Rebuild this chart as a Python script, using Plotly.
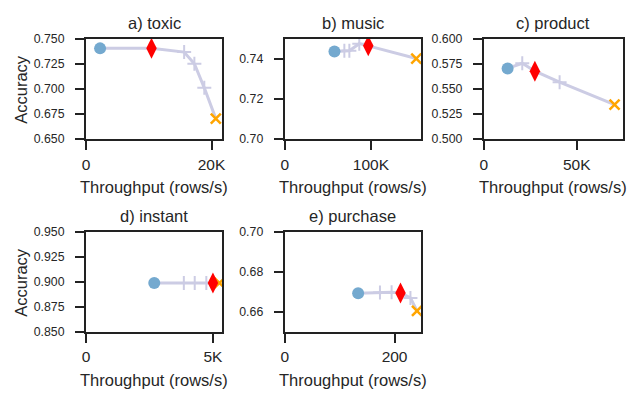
import plotly.graph_objects as go

W, H = 630, 398

# ---------------- data (throughput rows/s, accuracy) ----------------
titles = ["a) toxic", "b) music", "c) product", "d) instant", "e) purchase"]

toxic_x = [2250, 10440, 15640, 17270, 18850, 20680]
toxic_y = [0.7405, 0.7405, 0.7368, 0.7252, 0.7012, 0.6705]
toxic_kind = ["base", "chosen", "mid", "mid", "mid", "fast"]

music_x = [57700, 69200, 75000, 86500, 96900, 152600]
music_y = [0.7437, 0.7441, 0.7441, 0.7476, 0.7465, 0.7402]
music_kind = ["base", "mid", "mid", "mid", "chosen", "fast"]

product_x = [12800, 20700, 27500, 40800, 70400]
product_y = [0.5705, 0.5757, 0.5678, 0.5568, 0.5345]
product_kind = ["base", "mid", "chosen", "mid", "fast"]

instant_x = [2690, 3855, 4283, 4740, 5000, 5257]
instant_y = [0.899, 0.899, 0.899, 0.899, 0.899, 0.899]
instant_kind = ["base", "mid", "mid", "mid", "chosen", "fast"]

purchase_x = [133.7, 173.4, 194.6, 210.8, 228.9, 240.8]
purchase_y = [0.6693, 0.6697, 0.6699, 0.6695, 0.6670, 0.6605]
purchase_kind = ["base", "mid", "mid", "chosen", "mid", "fast"]

xranges = [[0, 21700], [0, 158000], [0, 74800], [0, 5365], [0, 248]]
yranges = [[0.65, 0.75], [0.70, 0.75], [0.50, 0.60], [0.85, 0.95], [0.65, 0.70]]
xtickvals = [[0, 20000], [0, 100000], [0, 50000], [0, 5000], [0, 200]]
xticktext = [["0", "20K"], ["0", "100K"], ["0", "50K"], ["0", "5K"], ["0", "200"]]
ytickvals = [
    [0.650, 0.675, 0.700, 0.725, 0.750],
    [0.70, 0.72, 0.74],
    [0.500, 0.525, 0.550, 0.575, 0.600],
    [0.850, 0.875, 0.900, 0.925, 0.950],
    [0.66, 0.68, 0.70],
]
yformats = [".3f", ".2f", ".3f", ".3f", ".2f"]

datasets = [
    (toxic_x, toxic_y, toxic_kind),
    (music_x, music_y, music_kind),
    (product_x, product_y, product_kind),
    (instant_x, instant_y, instant_kind),
    (purchase_x, purchase_y, purchase_kind),
]

# ---------------- layout geometry (pixels) ----------------
cols_px = [(83, 221), (284.3, 422.3), (486, 626.7)]
rows_px = [(33, 137), (233.3, 336.7)]
positions = [(0, 0), (0, 1), (0, 2), (1, 0), (1, 1)]

LINE_C = "rgb(204,204,228)"
BLUE = "rgb(116,169,207)"
RED = "#ff0000"
ORANGE = "#ffa500"
TXT = "#262626"
FONT = "Liberation Sans, Arial, sans-serif"
BIG = 16.5

fig = go.Figure()
annotations = []

for i, ((xs, ys, kinds), (r, c)) in enumerate(zip(datasets, positions)):
    n = "" if i == 0 else str(i + 1)
    xa, ya = "x" + n, "y" + n
    x0, x1 = cols_px[c]
    y0, y1 = rows_px[r]

    fig.add_trace(go.Scatter(x=xs, y=ys, mode="lines", xaxis=xa, yaxis=ya,
                             line=dict(color=LINE_C, width=3), showlegend=False))
    mx = [x for x, k in zip(xs, kinds) if k == "mid"]
    my = [y for y, k in zip(ys, kinds) if k == "mid"]
    fig.add_trace(go.Scatter(x=mx, y=my, mode="markers", xaxis=xa, yaxis=ya,
                             marker=dict(symbol="cross-thin", size=10,
                                         line=dict(color=LINE_C, width=2)),
                             showlegend=False))
    for kind, sym, col, size, lw in [("base", "circle", BLUE, 12, 0),
                                     ("fast", "x-thin", ORANGE, 10, 2.5),
                                     ("chosen", "diamond-tall", RED, 15, 0)]:
        px_ = [x for x, k in zip(xs, kinds) if k == kind]
        py_ = [y for y, k in zip(ys, kinds) if k == kind]
        if sym == "x-thin":
            mk = dict(symbol=sym, size=size, line=dict(color=col, width=lw))
        else:
            mk = dict(symbol=sym, size=size, color=col, line=dict(width=0))
        fig.add_trace(go.Scatter(x=px_, y=py_, mode="markers", xaxis=xa, yaxis=ya,
                                 marker=mk, showlegend=False))

    common = dict(showline=True, linecolor="#222222", linewidth=2, mirror=True,
                  ticks="outside", ticklen=9, tickwidth=1.5, tickcolor="#222222",
                  showgrid=False, zeroline=False, fixedrange=True)
    fig.update_layout(**{
        ("xaxis" + n): dict(domain=[x0 / W, x1 / W], range=xranges[i],
                            anchor=ya, tickvals=xtickvals[i], ticktext=xticktext[i],
                            tickfont=dict(size=15.5, color=TXT, family=FONT),
                            ticklabelstandoff=1, **common),
        ("yaxis" + n): dict(domain=[1 - y1 / H, 1 - y0 / H], range=yranges[i],
                            anchor=xa, tickvals=ytickvals[i], tickformat=yformats[i],
                            tickfont=dict(size=12.3, color=TXT, family=FONT),
                            ticklabelstandoff=8, **common),
    })

    cx = (x0 + x1) / 2 / W
    annotations.append(dict(text=titles[i], x=cx, y=1 - (y0 - 16.5) / H,
                            xref="paper", yref="paper", showarrow=False,
                            xanchor="center", yanchor="middle",
                            font=dict(size=BIG, color=TXT, family=FONT)))
    annotations.append(dict(text="Throughput (rows/s)", x=cx, y=1 - (y1 + 50) / H,
                            xref="paper", yref="paper", showarrow=False,
                            xanchor="center", yanchor="middle",
                            font=dict(size=BIG, color=TXT, family=FONT)))
    if c == 0:
        annotations.append(dict(text="Accuracy", x=17 / W, y=1 - ((y0 + y1) / 2) / H,
                                xref="paper", yref="paper", showarrow=False,
                                textangle=-90, xanchor="center", yanchor="middle",
                                font=dict(size=BIG, color=TXT, family=FONT)))

fig.update_layout(width=W, height=H, margin=dict(l=0, r=0, t=0, b=0),
                  paper_bgcolor="white", plot_bgcolor="white",
                  font=dict(family=FONT, color=TXT),
                  annotations=annotations)

fig.write_html("out.html", config={"displayModeBar": False})
